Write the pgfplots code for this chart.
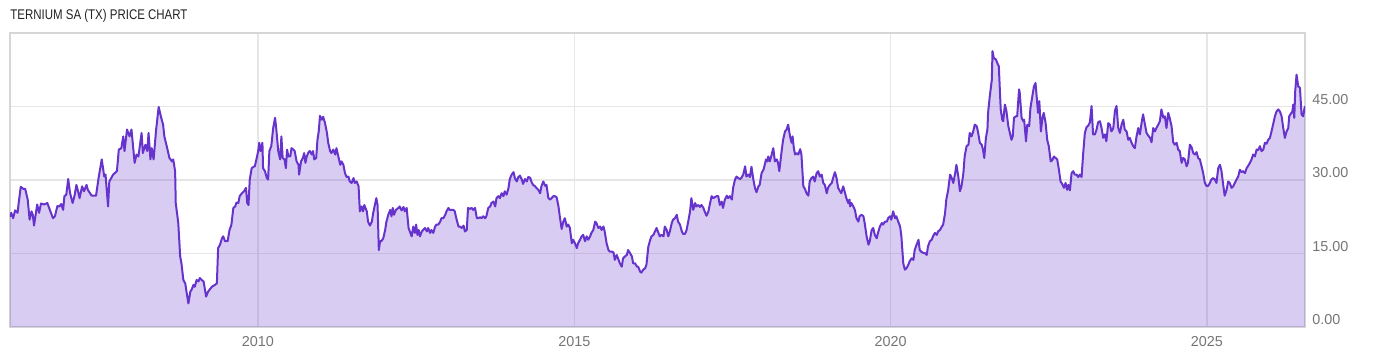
\documentclass[border=0pt]{standalone}
\usepackage{pgfplots}
\usepackage{pgfplotstable}
\pgfplotsset{compat=1.18}
\usepackage{fontspec}
\setmainfont{Liberation Sans}
\newfontfamily\titlefont[FakeStretch=0.82]{Liberation Sans}
\newfontfamily\tickfont{Liberation Sans}
\definecolor{linepurple}{RGB}{102,51,204}
\definecolor{gridgray}{RGB}{230,230,230}
\definecolor{framegray}{RGB}{214,214,214}
\definecolor{labelgray}{RGB}{117,117,117}
\definecolor{titlecol}{RGB}{34,34,34}
\pgfplotstableread{
year price
2006.08 22.5
2006.10 23.3
2006.13 22.2
2006.16 23.8
2006.20 23.3
2006.22 25.6
2006.25 28.6
2006.29 28.2
2006.32 28.2
2006.36 26.0
2006.39 21.9
2006.42 23.6
2006.44 22.9
2006.46 20.7
2006.49 23.3
2006.51 25.0
2006.54 23.3
2006.57 25.2
2006.62 25.0
2006.67 25.3
2006.71 23.9
2006.76 22.2
2006.79 22.6
2006.83 24.7
2006.86 24.6
2006.89 25.1
2006.92 23.9
2006.94 26.7
2006.97 27.0
2007.00 30.2
2007.03 27.3
2007.07 25.3
2007.10 26.8
2007.13 29.0
2007.15 28.0
2007.18 26.3
2007.22 28.7
2007.25 27.7
2007.29 29.0
2007.31 28.0
2007.37 26.8
2007.44 26.8
2007.48 30.4
2007.53 34.2
2007.57 30.7
2007.59 31.1
2007.63 24.6
2007.65 29.7
2007.71 31.1
2007.77 31.8
2007.80 36.2
2007.84 36.5
2007.87 38.9
2007.89 35.9
2007.93 40.3
2007.97 38.9
2008.00 40.3
2008.05 33.5
2008.08 35.2
2008.11 34.8
2008.16 39.6
2008.18 35.5
2008.22 37.2
2008.25 35.9
2008.27 39.6
2008.30 34.2
2008.32 36.5
2008.35 34.2
2008.39 40.3
2008.43 44.9
2008.47 42.7
2008.50 41.3
2008.52 38.9
2008.57 36.2
2008.60 34.5
2008.64 33.8
2008.66 34.2
2008.69 31.8
2008.70 25.3
2008.74 21.2
2008.77 14.4
2008.79 13.0
2008.82 9.6
2008.85 8.9
2008.87 7.2
2008.90 4.8
2008.93 7.2
2008.95 7.6
2008.98 8.6
2009.00 8.2
2009.03 9.6
2009.06 9.3
2009.08 10.0
2009.11 9.6
2009.14 9.3
2009.18 6.2
2009.21 7.2
2009.27 8.2
2009.32 8.6
2009.35 8.9
2009.37 16.1
2009.40 16.8
2009.43 18.1
2009.45 18.5
2009.48 17.5
2009.52 17.5
2009.55 19.8
2009.57 20.5
2009.58 20.9
2009.61 24.3
2009.64 24.6
2009.66 25.4
2009.69 25.3
2009.71 26.7
2009.74 27.2
2009.78 27.7
2009.81 28.4
2009.83 25.3
2009.85 24.9
2009.87 30.1
2009.90 32.4
2009.93 32.7
2009.95 32.8
2009.98 34.5
2010.00 35.7
2010.02 37.6
2010.04 35.9
2010.07 37.6
2010.08 32.4
2010.11 31.8
2010.14 30.4
2010.16 30.1
2010.18 35.9
2010.21 36.9
2010.24 40.6
2010.27 42.7
2010.29 40.3
2010.32 35.9
2010.35 34.2
2010.37 38.9
2010.39 34.5
2010.42 34.2
2010.44 32.4
2010.46 36.2
2010.48 34.8
2010.51 34.8
2010.53 36.5
2010.56 36.2
2010.58 35.9
2010.61 33.8
2010.64 33.1
2010.65 31.1
2010.68 33.8
2010.71 34.5
2010.73 35.5
2010.75 33.5
2010.77 34.8
2010.80 35.7
2010.82 35.9
2010.85 35.2
2010.87 35.9
2010.89 34.2
2010.92 34.5
2010.94 38.2
2010.96 39.9
2010.98 43.1
2011.01 42.3
2011.03 42.9
2011.06 41.6
2011.09 39.6
2011.11 37.6
2011.14 35.9
2011.16 35.5
2011.19 36.2
2011.22 35.2
2011.24 36.5
2011.27 34.8
2011.30 33.1
2011.32 33.8
2011.35 33.1
2011.375 31.4
2011.40 30.6
2011.43 30.7
2011.45 29.7
2011.48 29.4
2011.51 30.4
2011.53 29.4
2011.56 29.7
2011.59 28.7
2011.61 23.6
2011.64 24.6
2011.66 23.6
2011.68 24.9
2011.72 23.6
2011.74 21.5
2011.77 20.7
2011.80 21.5
2011.82 23.2
2011.87 26.3
2011.89 24.9
2011.91 15.7
2011.93 17.5
2011.95 17.5
2011.98 18.1
2012.01 19.8
2012.03 21.5
2012.06 22.9
2012.09 23.9
2012.11 22.6
2012.13 24.3
2012.15 22.9
2012.18 23.9
2012.22 24.3
2012.24 24.6
2012.27 23.8
2012.30 24.5
2012.32 23.6
2012.35 24.3
2012.38 20.2
2012.40 19.5
2012.43 18.5
2012.455 20.5
2012.48 19.2
2012.50 20.9
2012.52 18.8
2012.54 19.8
2012.56 18.5
2012.59 19.5
2012.61 19.8
2012.64 20.2
2012.67 19.5
2012.69 20.2
2012.72 19.2
2012.74 19.8
2012.77 19.2
2012.80 20.5
2012.82 20.9
2012.85 20.9
2012.88 21.5
2012.90 22.2
2012.93 22.2
2012.96 22.9
2012.98 23.6
2013.01 24.3
2013.03 23.9
2013.06 23.9
2013.09 23.9
2013.11 23.6
2013.14 21.9
2013.17 20.5
2013.19 20.5
2013.22 20.2
2013.25 20.7
2013.27 19.5
2013.30 19.8
2013.32 24.3
2013.35 24.1
2013.38 24.3
2013.40 23.9
2013.43 24.3
2013.46 22.2
2013.48 22.2
2013.51 22.4
2013.535 22.2
2013.56 22.6
2013.59 22.2
2013.61 22.6
2013.64 24.3
2013.67 24.6
2013.69 25.3
2013.72 25.6
2013.75 24.6
2013.77 26.3
2013.80 26.7
2013.825 26.3
2013.85 27.3
2013.88 26.7
2013.90 27.7
2013.93 27.0
2013.96 28.4
2013.98 30.2
2014.01 31.1
2014.04 31.6
2014.06 30.4
2014.09 29.7
2014.115 30.6
2014.14 30.9
2014.17 30.1
2014.19 29.2
2014.22 30.2
2014.25 29.7
2014.27 30.6
2014.30 30.5
2014.33 29.4
2014.35 29.0
2014.38 28.7
2014.40 28.4
2014.43 28.0
2014.46 27.3
2014.48 28.7
2014.51 29.7
2014.54 28.8
2014.56 29.0
2014.59 26.3
2014.62 26.0
2014.64 26.3
2014.67 26.7
2014.69 26.7
2014.72 26.5
2014.75 24.6
2014.77 22.6
2014.80 20.0
2014.826 21.5
2014.85 22.2
2014.88 20.5
2014.905 20.9
2014.93 20.2
2014.96 17.1
2014.98 17.8
2015.01 17.1
2015.04 16.1
2015.06 17.1
2015.09 17.8
2015.116 18.5
2015.14 18.8
2015.17 17.5
2015.195 18.5
2015.22 17.8
2015.25 18.5
2015.27 19.2
2015.30 19.8
2015.33 21.5
2015.35 21.2
2015.38 20.2
2015.41 20.5
2015.43 19.8
2015.46 20.5
2015.48 19.5
2015.51 17.1
2015.54 15.7
2015.56 15.4
2015.59 15.4
2015.62 15.2
2015.64 13.7
2015.67 14.7
2015.70 13.7
2015.72 13.0
2015.75 12.3
2015.77 14.0
2015.80 14.4
2015.83 14.7
2015.85 15.7
2015.88 15.1
2015.91 14.4
2015.93 13.0
2015.96 13.0
2015.99 12.3
2016.01 12.3
2016.04 11.3
2016.06 11.1
2016.09 11.7
2016.12 12.0
2016.14 12.7
2016.17 16.4
2016.20 17.8
2016.22 18.5
2016.25 18.8
2016.275 19.5
2016.30 20.2
2016.33 19.2
2016.35 18.5
2016.38 18.8
2016.41 18.5
2016.43 20.5
2016.46 19.8
2016.485 18.5
2016.51 19.5
2016.54 21.2
2016.56 21.9
2016.59 22.2
2016.62 22.9
2016.64 21.5
2016.67 20.9
2016.70 19.5
2016.72 19.0
2016.75 19.0
2016.775 19.8
2016.80 21.5
2016.83 23.6
2016.85 26.3
2016.88 23.9
2016.91 25.3
2016.93 24.6
2016.96 24.9
2016.985 24.5
2017.01 24.9
2017.04 24.3
2017.06 23.6
2017.09 22.7
2017.12 23.6
2017.14 24.9
2017.17 26.7
2017.196 26.3
2017.22 26.5
2017.25 26.7
2017.275 26.7
2017.30 24.9
2017.33 25.6
2017.35 24.3
2017.38 26.0
2017.41 26.8
2017.43 26.3
2017.46 26.7
2017.49 26.0
2017.51 28.4
2017.54 30.1
2017.565 30.7
2017.59 30.4
2017.62 30.2
2017.64 30.4
2017.67 31.1
2017.70 32.8
2017.72 30.7
2017.75 31.1
2017.776 30.6
2017.80 32.7
2017.83 30.1
2017.855 28.4
2017.88 27.5
2017.91 28.7
2017.93 29.0
2017.96 31.4
2017.99 32.1
2018.01 33.1
2018.03 34.2
2018.05 33.8
2018.065 34.8
2018.09 33.8
2018.12 35.2
2018.145 36.5
2018.17 33.8
2018.20 34.2
2018.22 33.5
2018.24 31.8
2018.28 36.2
2018.30 38.2
2018.33 39.9
2018.355 40.3
2018.38 41.3
2018.41 38.9
2018.435 37.6
2018.45 38.9
2018.47 36.5
2018.49 35.2
2018.51 35.5
2018.54 35.2
2018.57 36.3
2018.59 35.2
2018.62 28.7
2018.645 28.2
2018.67 27.3
2018.70 26.8
2018.72 29.7
2018.75 30.4
2018.776 30.7
2018.80 29.7
2018.83 31.4
2018.855 31.8
2018.88 30.7
2018.91 31.1
2018.935 29.4
2018.96 29.0
2018.99 27.3
2019.01 28.4
2019.04 29.0
2019.07 29.4
2019.09 30.4
2019.12 31.6
2019.145 30.4
2019.17 28.4
2019.20 27.7
2019.22 27.3
2019.25 28.7
2019.28 27.3
2019.30 26.3
2019.33 25.3
2019.35 26.0
2019.36 24.6
2019.38 25.3
2019.41 24.6
2019.435 23.9
2019.46 22.2
2019.49 21.5
2019.51 22.6
2019.54 22.9
2019.57 22.6
2019.59 21.2
2019.62 18.5
2019.65 16.8
2019.67 17.5
2019.70 19.8
2019.725 20.2
2019.75 18.8
2019.78 18.1
2019.80 19.2
2019.83 20.5
2019.86 21.2
2019.88 20.9
2019.91 21.5
2019.94 21.5
2019.96 22.2
2019.99 22.6
2020.01 21.9
2020.04 23.6
2020.07 22.2
2020.09 22.6
2020.12 21.5
2020.15 20.5
2020.17 18.5
2020.20 13.0
2020.225 11.7
2020.25 12.0
2020.28 12.7
2020.30 13.4
2020.33 14.0
2020.36 13.7
2020.38 15.7
2020.41 16.8
2020.44 17.8
2020.46 15.7
2020.49 15.3
2020.52 15.1
2020.54 15.1
2020.57 14.7
2020.59 16.4
2020.62 17.5
2020.65 17.8
2020.67 18.5
2020.70 19.2
2020.73 18.8
2020.75 19.5
2020.78 19.8
2020.81 20.5
2020.83 20.9
2020.86 23.2
2020.88 26.0
2020.91 28.0
2020.94 31.1
2020.96 30.6
2020.99 29.4
2021.02 31.4
2021.04 33.1
2021.07 30.7
2021.095 27.7
2021.12 28.7
2021.15 31.4
2021.17 34.8
2021.20 36.9
2021.23 37.2
2021.25 39.6
2021.28 38.9
2021.305 39.9
2021.33 41.3
2021.36 41.0
2021.38 39.9
2021.41 37.6
2021.44 37.2
2021.46 36.2
2021.48 34.5
2021.506 38.6
2021.53 40.3
2021.54 43.7
2021.57 47.4
2021.60 50.5
2021.61 56.3
2021.63 54.9
2021.664 54.6
2021.685 53.9
2021.71 53.2
2021.74 44.4
2021.764 42.3
2021.78 42.0
2021.806 45.4
2021.83 44.1
2021.86 41.0
2021.885 39.6
2021.91 38.2
2021.93 38.9
2021.95 42.7
2021.98 43.0
2022.00 43.0
2022.03 48.5
2022.04 47.9
2022.07 42.7
2022.096 42.0
2022.11 42.3
2022.14 37.9
2022.16 41.3
2022.19 41.0
2022.21 44.7
2022.24 47.1
2022.265 49.1
2022.29 49.8
2022.317 45.7
2022.33 43.7
2022.35 46.1
2022.375 39.9
2022.40 42.7
2022.42 43.7
2022.45 41.6
2022.475 38.2
2022.50 36.9
2022.53 33.8
2022.554 34.0
2022.58 34.8
2022.607 34.5
2022.633 34.2
2022.66 32.1
2022.686 29.7
2022.712 29.2
2022.74 28.4
2022.765 29.4
2022.79 28.0
2022.81 29.0
2022.834 27.9
2022.86 31.4
2022.886 31.8
2022.91 31.1
2022.939 31.1
2022.965 30.6
2022.99 31.1
2023.018 30.6
2023.044 35.5
2023.07 39.6
2023.097 40.8
2023.124 41.1
2023.15 41.8
2023.176 45.1
2023.20 39.3
2023.229 39.3
2023.255 40.3
2023.28 41.8
2023.308 42.0
2023.334 40.6
2023.36 38.6
2023.387 39.3
2023.41 37.9
2023.44 41.6
2023.466 41.3
2023.49 39.9
2023.52 40.6
2023.545 44.1
2023.57 45.1
2023.598 40.6
2023.624 39.6
2023.65 41.3
2023.677 42.3
2023.70 40.3
2023.73 39.9
2023.756 38.2
2023.78 38.6
2023.808 37.6
2023.835 36.9
2023.86 36.5
2023.887 38.9
2023.914 40.6
2023.94 39.3
2023.966 41.6
2023.99 43.4
2024.02 41.3
2024.045 39.6
2024.07 39.1
2024.10 38.6
2024.124 37.7
2024.15 40.6
2024.177 39.9
2024.20 40.6
2024.23 41.3
2024.256 42.0
2024.28 44.4
2024.31 42.7
2024.335 43.0
2024.36 40.6
2024.388 43.7
2024.41 42.7
2024.44 41.0
2024.467 37.7
2024.49 37.2
2024.52 37.6
2024.546 36.2
2024.57 35.9
2024.60 33.5
2024.625 34.5
2024.65 34.2
2024.678 32.8
2024.70 33.5
2024.73 37.2
2024.757 36.7
2024.783 35.5
2024.81 35.2
2024.836 35.7
2024.86 34.5
2024.888 34.2
2024.915 32.8
2024.94 31.4
2024.967 29.4
2024.99 28.8
2025.02 28.8
2025.046 29.4
2025.07 30.1
2025.10 30.4
2025.125 30.1
2025.15 29.4
2025.178 32.4
2025.205 33.1
2025.23 31.8
2025.257 29.0
2025.28 26.8
2025.31 28.0
2025.336 29.7
2025.36 29.4
2025.389 28.4
2025.415 28.7
2025.44 29.4
2025.468 30.1
2025.494 30.7
2025.52 32.1
2025.547 31.6
2025.57 31.8
2025.60 31.4
2025.626 32.4
2025.652 32.9
2025.679 33.5
2025.705 34.2
2025.73 35.2
2025.758 34.8
2025.784 36.2
2025.81 36.1
2025.837 36.9
2025.863 35.9
2025.89 36.2
2025.916 37.6
2025.942 37.4
2025.968 38.2
2025.995 38.6
2026.02 39.9
2026.05 41.6
2026.074 43.0
2026.10 44.0
2026.126 44.4
2026.153 44.0
2026.18 43.0
2026.206 40.6
2026.232 38.6
2026.258 39.9
2026.285 40.6
2026.30 43.0
2026.32 43.4
2026.35 44.0
2026.364 45.4
2026.38 42.7
2026.395 48.1
2026.416 51.5
2026.443 49.1
2026.47 48.8
2026.495 43.4
2026.52 43.0
2026.548 45.1
}\pricedata
\begin{document}
\begin{tikzpicture}
\begin{axis}[
  at={(0pt,0pt)}, anchor=south west,
  scale only axis, width=647.5pt, height=147pt,
  xmin=2006.08, xmax=2026.55, ymin=0, ymax=60,
  axis line style={draw=framegray, line width=0.7pt},
  xtick={2010,2015,2020,2025}, xticklabels={2010,2015,2020,2025},
  ytick={0,15,30,45},
  yticklabel pos=right,
  major tick length=0pt,
  grid=major,
  grid style={gridgray, line width=0.6pt},
  tick label style={font=\tickfont\fontsize{7.2}{8}\selectfont, text=labelgray, inner sep=0pt},
  yticklabel style={anchor=west, xshift=3.5pt, yshift=3.5pt,
    /pgf/number format/.cd, fixed, fixed zerofill, precision=2, assume math mode=true},
  xticklabel style={anchor=north, yshift=-4.5pt},
]
\addplot[draw=none, fill=linepurple, fill opacity=0.25] table[x=year, y=price] {\pricedata} \closedcycle;
\addplot[linepurple, line width=1pt, line join=round, mark=none] table[x=year, y=price] {\pricedata};
\end{axis}
\node[anchor=west, inner sep=0pt, text=titlecol, font=\titlefont\fontsize{7}{8}\selectfont] at (0pt,155.5pt) {TERNIUM SA (TX) PRICE CHART};
\pgfresetboundingbox
\path[use as bounding box] (-5pt,-15pt) rectangle (695pt,163.5pt);
\end{tikzpicture}
\end{document}
